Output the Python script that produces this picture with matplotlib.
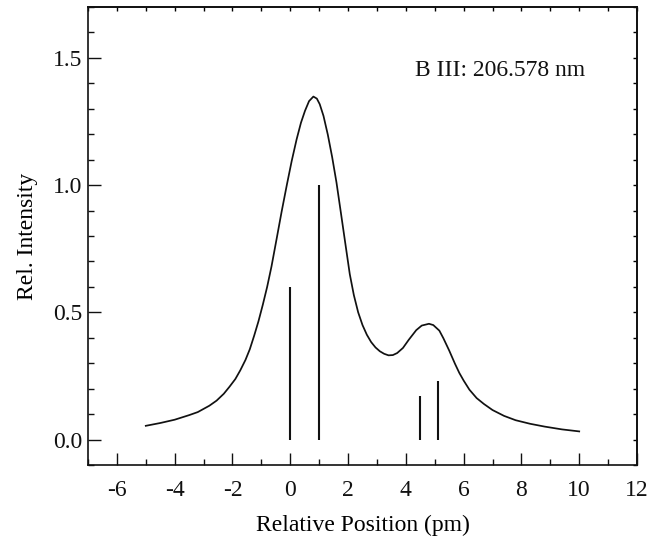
import matplotlib
matplotlib.use("Agg")
import matplotlib.pyplot as plt
from matplotlib.ticker import MultipleLocator, FormatStrFormatter

plt.rcParams['font.family'] = ['Liberation Serif', 'DejaVu Serif']
plt.rcParams['axes.unicode_minus'] = False

# Profile curve
curve_x = [-5.0, -4.5, -4.0, -3.5, -3.2, -2.8, -2.55, -2.3, -2.1, -1.9, -1.73,
           -1.55, -1.4, -1.25, -1.1, -0.95, -0.8, -0.65, -0.47, -0.3, -0.12,
           0.05, 0.22, 0.37, 0.51, 0.65, 0.8, 0.92, 1.02, 1.15, 1.3, 1.45, 1.6,
           1.75, 1.9, 2.06, 2.2, 2.35, 2.5, 2.65, 2.8, 2.95, 3.1, 3.25, 3.4,
           3.55, 3.7, 3.9, 4.1, 4.36, 4.55, 4.8, 4.95, 5.16, 5.3, 5.5, 5.7,
           5.85, 6.0, 6.2, 6.45, 6.7, 7.0, 7.4, 7.8, 8.3, 8.8, 9.4, 10.0]
curve_y = [0.054, 0.065, 0.078, 0.096, 0.108, 0.133, 0.153, 0.180, 0.208, 0.238,
           0.272, 0.313, 0.355, 0.408, 0.465, 0.530, 0.600, 0.680, 0.790, 0.895,
           1.000, 1.095, 1.180, 1.245, 1.292, 1.330, 1.348, 1.340, 1.318, 1.272,
           1.198, 1.110, 1.010, 0.893, 0.775, 0.650, 0.568, 0.500, 0.450, 0.412,
           0.383, 0.362, 0.347, 0.337, 0.331, 0.332, 0.340, 0.360, 0.392, 0.430,
           0.448, 0.455, 0.450, 0.428, 0.398, 0.350, 0.298, 0.262, 0.232, 0.196,
           0.163, 0.140, 0.116, 0.093, 0.076, 0.062, 0.051, 0.040, 0.032]

# Component line positions and strengths
stick_x = [0.0, 1.0, 4.5, 5.1]
stick_y = [0.60, 1.00, 0.17, 0.23]

label_text = "B III: 206.578 nm"

fig = plt.figure(figsize=(6.6, 5.37), dpi=100)
ax = fig.add_axes([88/660, 1-465/537, (637-88)/660, (465-7)/537])

ax.plot(curve_x, curve_y, color='#111111', lw=1.25, solid_joinstyle='round')
ax.vlines(stick_x, 0, stick_y, color='#111111', lw=1.5)

ax.set_xlim(-7, 12)
ax.set_ylim(-0.1, 1.7)
ax.xaxis.set_major_locator(MultipleLocator(2))
ax.xaxis.set_minor_locator(MultipleLocator(1))
ax.yaxis.set_major_locator(MultipleLocator(0.5))
ax.yaxis.set_minor_locator(MultipleLocator(0.1))
ax.yaxis.set_major_formatter(FormatStrFormatter('%.1f'))

ax.tick_params(which='major', direction='in', length=9, width=1.0, labelsize=17,
               top=False, right=False, colors='#111111')
ax.tick_params(which='minor', direction='in', length=4.5, width=1.0,
               top=False, right=False, colors='#111111')
ax.tick_params(axis='x', which='major', pad=11)
ax.tick_params(axis='y', which='major', pad=4)

# short ticks along top and right spines
sx = ax.secondary_xaxis('top')
sx.xaxis.set_major_locator(MultipleLocator(1))
sx.tick_params(direction='in', length=3, width=1.0, labeltop=False)
sy = ax.secondary_yaxis('right')
sy.yaxis.set_major_locator(MultipleLocator(0.1))
sy.tick_params(direction='in', length=3, width=1.0, labelright=False)

for sp in ax.spines.values():
    sp.set_linewidth(1.2)
    sp.set_color('#111111')
for s in (sx, sy):
    for sp in s.spines.values():
        sp.set_linewidth(1.2)

ax.set_xlabel('Relative Position (pm)', fontsize=17, labelpad=10)
ax.set_ylabel('Rel. Intensity', fontsize=17, labelpad=11)
ax.text(0.596, 0.862, label_text, transform=ax.transAxes, fontsize=17,
        ha='left', va='center', color='#111111')

fig.savefig('out.png', dpi=100)
